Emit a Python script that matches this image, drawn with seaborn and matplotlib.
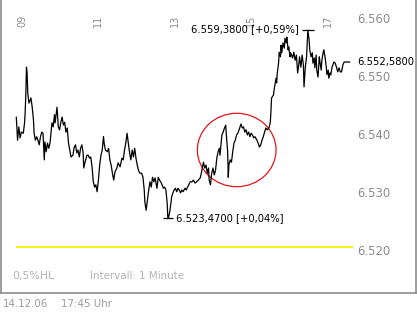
import matplotlib
matplotlib.use("Agg")
import matplotlib.pyplot as plt
import numpy as np
import pandas as pd
import seaborn as sns
from matplotlib.patches import Ellipse

# ---- data (minutes after midnight, price) ----
minutes = [
    531, 533, 535, 537, 539, 542, 544, 545, 546, 547,
    548, 549, 551, 554, 556, 558, 559, 561, 563, 565,
    567, 569, 571, 573, 575, 576, 578, 580, 582, 584,
    586, 587, 589, 591, 592, 594, 595, 597, 599, 601,
    603, 605, 607, 609, 611, 613, 615, 617, 620, 622,
    624, 626, 628, 630, 632, 634, 636, 637, 639, 642,
    644, 646, 648, 650, 652, 654, 656, 658, 660, 662,
    664, 666, 668, 669, 671, 674, 676, 678, 680, 682,
    684, 686, 689, 691, 694, 697, 699, 701, 703, 705,
    707, 709, 711, 713, 715, 717, 719, 721, 723, 725,
    728, 730, 732, 733, 735, 737, 739, 741, 743, 745,
    747, 749, 752, 754, 756, 758, 760, 762, 764, 766,
    768, 769, 770, 772, 774, 775, 777, 779, 781, 783,
    785, 787, 789, 791, 793, 796, 798, 800, 802, 804,
    807, 809, 812, 814, 817, 820, 822, 825, 827, 829,
    831, 833, 834, 836, 838, 840, 842, 844, 846, 848,
    850, 851, 853, 854, 856, 858, 860, 861, 863, 864,
    865, 867, 869, 871, 873, 875, 877, 879, 881, 884,
    886, 888, 890, 892, 894, 896, 898, 900, 902, 904,
    906, 909, 911, 913, 915, 917, 919, 921, 923, 925,
    928, 930, 931, 932, 935, 936, 939, 940, 941, 943,
    944, 946, 947, 948, 950, 952, 953, 955, 956, 958,
    959, 961, 962, 965, 967, 969, 971, 973, 975, 976,
    978, 980, 982, 983, 985, 987, 988, 989, 991, 992,
    994, 996, 997, 999, 1000, 1002, 1003, 1005, 1007, 1008,
    1010, 1011, 1013, 1014, 1016, 1018, 1019, 1021, 1022, 1024,
    1025, 1027, 1030, 1032, 1034, 1036, 1038, 1040, 1042, 1044,
    1046, 1055,
]
prices = [
    6.5429, 6.5389, 6.5412, 6.5393, 6.5403, 6.5401, 6.5419, 6.5438, 6.5470, 6.5515,
    6.5505, 6.5470, 6.5453, 6.5462, 6.5446, 6.5424, 6.5401, 6.5389, 6.5395, 6.5389,
    6.5381, 6.5395, 6.5403, 6.5401, 6.5355, 6.5386, 6.5369, 6.5384, 6.5375, 6.5384,
    6.5407, 6.5419, 6.5412, 6.5433, 6.5419, 6.5438, 6.5446, 6.5412, 6.5407, 6.5420,
    6.5429, 6.5415, 6.5420, 6.5403, 6.5410, 6.5384, 6.5372, 6.5360, 6.5363, 6.5377,
    6.5381, 6.5367, 6.5372, 6.5360, 6.5375, 6.5381, 6.5367, 6.5341, 6.5351, 6.5363,
    6.5363, 6.5358, 6.5360, 6.5343, 6.5317, 6.5308, 6.5312, 6.5300, 6.5320, 6.5346,
    6.5363, 6.5372, 6.5395, 6.5384, 6.5372, 6.5369, 6.5375, 6.5355, 6.5346, 6.5332,
    6.5320, 6.5334, 6.5341, 6.5350, 6.5343, 6.5358, 6.5355, 6.5372, 6.5384, 6.5401,
    6.5384, 6.5367, 6.5355, 6.5372, 6.5360, 6.5375, 6.5358, 6.5346, 6.5337, 6.5332,
    6.5332, 6.5325, 6.5303, 6.5282, 6.5268, 6.5286, 6.5303, 6.5317, 6.5308, 6.5325,
    6.5317, 6.5324, 6.5306, 6.5325, 6.5320, 6.5317, 6.5312, 6.5306, 6.5308, 6.5303,
    6.5281, 6.5256, 6.5255, 6.5265, 6.5281, 6.5291, 6.5298, 6.5303, 6.5306, 6.5300,
    6.5306, 6.5303, 6.5298, 6.5303, 6.5300, 6.5306, 6.5303, 6.5308, 6.5312, 6.5317,
    6.5317, 6.5320, 6.5315, 6.5317, 6.5320, 6.5324, 6.5334, 6.5351, 6.5341, 6.5346,
    6.5332, 6.5341, 6.5320, 6.5312, 6.5332, 6.5341, 6.5329, 6.5337, 6.5358, 6.5369,
    6.5375, 6.5363, 6.5386, 6.5398, 6.5403, 6.5410, 6.5415, 6.5398, 6.5369, 6.5325,
    6.5346, 6.5355, 6.5351, 6.5369, 6.5384, 6.5389, 6.5398, 6.5401, 6.5407, 6.5417,
    6.5410, 6.5412, 6.5403, 6.5407, 6.5398, 6.5403, 6.5395, 6.5401, 6.5398, 6.5393,
    6.5395, 6.5389, 6.5384, 6.5377, 6.5381, 6.5389, 6.5395, 6.5403, 6.5410, 6.5407,
    6.5410, 6.5420, 6.5438, 6.5462, 6.5467, 6.5476, 6.5496, 6.5488, 6.5505, 6.5522,
    6.5541, 6.5533, 6.5553, 6.5540, 6.5557, 6.5548, 6.5565, 6.5557, 6.5567, 6.5545,
    6.5550, 6.5533, 6.5540, 6.5531, 6.5541, 6.5527, 6.5536, 6.5505, 6.5522, 6.5533,
    6.5515, 6.5536, 6.5519, 6.5481, 6.5515, 6.5533, 6.5557, 6.5579, 6.5562, 6.5545,
    6.5533, 6.5540, 6.5522, 6.5531, 6.5514, 6.5536, 6.5510, 6.5498, 6.5533, 6.5524,
    6.5510, 6.5527, 6.5540, 6.5545, 6.5533, 6.5515, 6.5502, 6.5510, 6.5496, 6.5505,
    6.5502, 6.5515, 6.5524, 6.5522, 6.5515, 6.5507, 6.5514, 6.5507, 6.5507, 6.5519,
    6.5524, 6.5524,
]
hour_ticks = [9, 11, 13, 15, 17]
hour_labels = ["09", "11", "13", "15", "17"]
price_ticks = [6.520, 6.530, 6.540, 6.550, 6.560]
price_labels = ["6.520", "6.530", "6.540", "6.550", "6.560"]
prev_close = 6.5205
high_label = "6.559,3800 [+0,59%]"
low_label = "6.523,4700 [+0,04%]"
last_label = "6.552,5800"
footer_left = "0,5%HL"
footer_interval = "Intervall: 1 Minute"
date_label = "14.12.06"
time_label = "17:45 Uhr"

df = pd.DataFrame({"hour": np.array(minutes) / 60.0, "price": prices})

sns.set_style("white")
plt.rcParams["font.family"] = ["DejaVu Sans"]

W, H = 417, 312
fig = plt.figure(figsize=(W / 100, H / 100), dpi=100)
ax = fig.add_axes([0.5 / W, 19 / H, 415.5 / W, 293 / H])

sns.lineplot(data=df, x="hour", y="price", color="black", linewidth=0.9,
             estimator=None, sort=False, legend=False, ax=ax)

ax.set_xlim(506.2 / 60, 1158.9 / 60)
ax.set_ylim(6.51251, 6.56311)

# previous close reference line
ax.hlines(prev_close, df["hour"].iloc[0], 1060 / 60, color="#f7f000", linewidth=1.3)

# frame
for side in ["left", "bottom", "right"]:
    ax.spines[side].set_color("#8c8c8c")
    ax.spines[side].set_linewidth(1.2)
ax.spines["top"].set_visible(False)

# x ticks on top, inside
ax.set_xticks(hour_ticks)
ax.set_xticklabels(hour_labels)
ax.xaxis.tick_top()
ax.tick_params(axis="x", length=0, pad=-19.5, labelrotation=90,
               labelcolor="#8c8c8c", labelsize=7)

# y ticks on right, inside
ax.set_yticks(price_ticks)
ax.set_yticklabels(price_labels)
ax.yaxis.tick_right()
ax.tick_params(axis="y", length=0, pad=-42.5, labelcolor="#8c8c8c", labelsize=8.4)
ax.set_xlabel("")
ax.set_ylabel("")
ax.grid(False)

# high / low / last annotations
imax = int(np.argmax(df["price"].values))
imin = int(np.argmin(df["price"].values))
hx, hy = df["hour"].iloc[imax], df["price"].iloc[imax]
lx, ly = df["hour"].iloc[imin], df["price"].iloc[imin]
ax.plot([hx], [hy], marker="_", markersize=8.6, mew=0.9, color="black")
ax.plot([lx], [ly], marker="_", markersize=7.2, mew=0.9, color="black")
ax.annotate(high_label, (hx, hy), xytext=(-6.5, 0.8), textcoords="offset points",
            ha="right", va="center", fontsize=7.2, color="black")
ax.annotate(low_label, (lx, ly), xytext=(5.5, 0), textcoords="offset points",
            ha="left", va="center", fontsize=7.2, color="black")
ax.annotate(last_label, (df["hour"].iloc[-1], df["price"].iloc[-1]), xytext=(5, 0),
            textcoords="offset points", ha="left", va="center", fontsize=7.2,
            color="black")

# red highlight ellipse
ax.add_patch(Ellipse((0.5685, 0.4881), 0.1894, 0.2505, transform=ax.transAxes,
                     fill=False, edgecolor="#e8141c", linewidth=0.9))

# footer texts inside the frame
ax.text(0.0294, 0.058, footer_left, transform=ax.transAxes, ha="left", va="center",
        fontsize=7.8, color="#b4b4b4")
ax.text(0.2154, 0.058, footer_interval, transform=ax.transAxes, ha="left",
        va="center", fontsize=7.4, color="#b4b4b4")

# date line below frame
fig.text(2.7 / W, (H - 304) / H, date_label, ha="left", va="center", fontsize=7.4,
         color="#9a9a9a")
fig.text(60.7 / W, (H - 304) / H, time_label, ha="left", va="center", fontsize=7.4,
         color="#9a9a9a")

fig.savefig("out.png", dpi=100)
